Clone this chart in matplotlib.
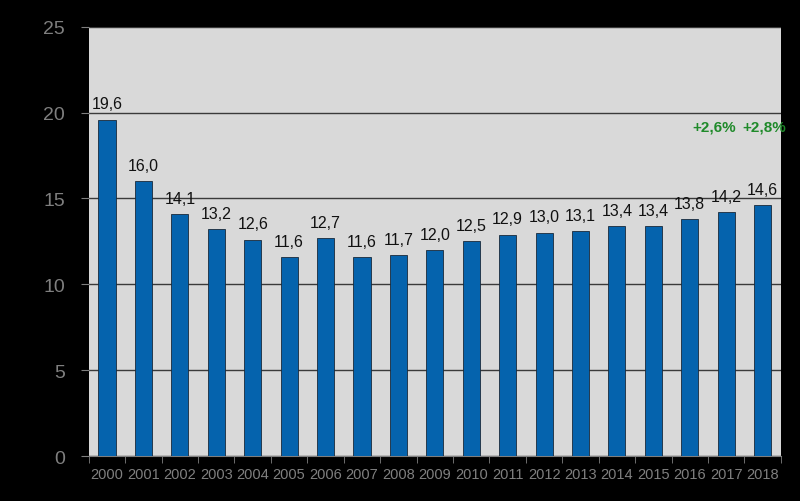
import matplotlib
matplotlib.use("Agg")
import matplotlib.pyplot as plt
import numpy as np

years = [str(y) for y in range(2000, 2019)]
values = [19.6, 16.0, 14.1, 13.2, 12.6, 11.6, 12.7, 11.6, 11.7, 12.0,
          12.5, 12.9, 13.0, 13.1, 13.4, 13.4, 13.8, 14.2, 14.6]
growth_labels = ["+2,6%", "+2,8%"]
growth_xpos = [16.67, 18.04]   # category units, as placed in the reference
growth_y = 19.2

plt.rcParams["font.family"] = ["Liberation Sans Narrow", "Liberation Sans", "DejaVu Sans"]

fig = plt.figure(figsize=(8.0, 5.02), dpi=100, facecolor="black")
ax = fig.add_axes([0.111, 0.0896, 0.865, 0.855])
ax.set_facecolor("#d9d9d9")

x = np.arange(len(years))
ax.bar(x, values, width=0.47, color="#0563ad", edgecolor="#1a2a3a",
       linewidth=0.6, zorder=3)

for xi, v in zip(x, values):
    ax.annotate(f"{v:.1f}".replace(".", ","), (xi, v), xytext=(0, 6),
                textcoords="offset points", ha="center", va="bottom",
                fontsize=11.5, color="#111111", zorder=4)

for lab, xp in zip(growth_labels, growth_xpos):
    ax.text(xp, growth_y, lab, ha="center", va="center", fontsize=11,
            fontweight="bold", color="#1f8a2a", clip_on=False, zorder=5)

ax.set_xlim(-0.5, len(years) - 0.5)
ax.set_ylim(0, 25)
ax.set_yticks([0, 5, 10, 15, 20, 25])
ax.yaxis.grid(True, color="#3a3a3a", linewidth=1.0, zorder=1)
ax.set_axisbelow(True)

ax.set_xticks(x)
ax.set_xticklabels(years)
ax.set_xticks(np.arange(len(years) + 1) - 0.5, minor=True)
ax.tick_params(axis="x", which="major", length=0, pad=8, labelsize=10.5,
               labelcolor="#7f7f7f")
ax.tick_params(axis="x", which="minor", length=5, color="#7f7f7f",
               direction="out")
ax.tick_params(axis="y", length=6, color="#7f7f7f", labelsize=14,
               labelcolor="#7f7f7f", pad=11)

for s in ["top", "right", "left"]:
    ax.spines[s].set_visible(False)
ax.spines["bottom"].set_color("#7f7f7f")

fig.savefig("out.png", dpi=100, facecolor="black")
